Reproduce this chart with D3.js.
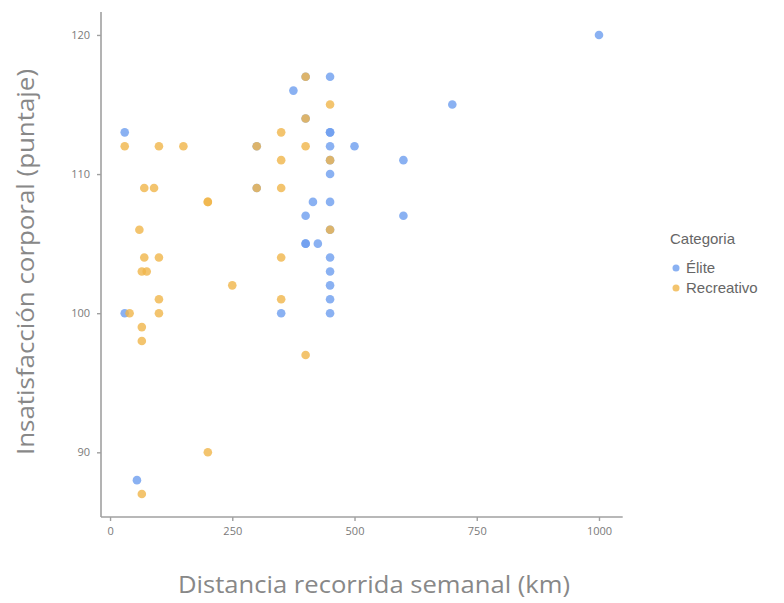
<!DOCTYPE html>
<html><head><meta charset="utf-8">
<script src="https://cdn.jsdelivr.net/npm/d3@7"></script>
<style>body{margin:0;background:#fff}</style>
</head><body>
<svg id="c" width="784" height="603"></svg>
<script>
const categories = ["Élite", "Recreativo"];
const eliteX = [1000,700,600,600,500,30,375,450,450,450,450,450,450,450,450,450,450,450,450,450,400,400,400,425,415,350,30,55,300,300,400,400];
const eliteY = [120,115,111,107,112,113,116,117,113,113,112,111,110,108,106,104,103,102,101,100,105,105,107,105,108,100,100,88,112,109,117,114];
const recX = [30,100,150,300,350,350,350,350,350,400,400,400,400,450,450,450,70,90,300,200,200,60,70,100,65,75,250,100,40,100,65,65,200,65];
const recY = [112,112,112,112,113,111,109,104,101,117,114,112,97,115,111,106,109,109,109,108,108,106,104,104,103,103,102,101,100,100,99,98,90,87];
const xTicks = [0,250,500,750,1000];
const yTicks = [90,100,110,120];
const colors = ["#6d9eef", "#f0b54a"];

const svg = d3.select("#c");
const x = d3.scaleLinear().domain([-18.5,1048.5]).range([101,622.7]);
const y = d3.scaleLinear().domain([85.35,121.65]).range([517,12]);
const axisCol = "#a0a0a0", txtCol = "#7a7a7a";

const pts = [];
eliteX.forEach((v,i)=>pts.push({x:v,y:eliteY[i],c:0}));
recX.forEach((v,i)=>pts.push({x:v,y:recY[i],c:1}));

svg.append("g").selectAll("circle").data(pts).join("circle")
  .attr("cx",d=>x(d.x)).attr("cy",d=>y(d.y)).attr("r",4.3)
  .attr("fill",d=>colors[d.c]).attr("fill-opacity",0.8);

const gx = svg.append("g").attr("transform","translate(0,517)")
  .call(d3.axisBottom(x).tickValues(xTicks).tickFormat(d3.format("d")).tickSize(4).tickPadding(6).tickSizeOuter(0));
const gy = svg.append("g").attr("transform","translate(101,0)")
  .call(d3.axisLeft(y).tickValues(yTicks).tickFormat(d3.format("d")).tickSize(4).tickPadding(7).tickSizeOuter(0));
[gx,gy].forEach(g=>{
  g.select(".domain").attr("stroke",axisCol).attr("stroke-width",1.6);
  g.selectAll(".tick line").attr("stroke",axisCol).attr("stroke-width",1.4);
  g.selectAll(".tick text").attr("fill",txtCol).attr("font-family","Liberation Sans Narrow, Open Sans, sans-serif").attr("font-size",11);
});
gx.select(".domain").attr("d","M101,0H622.7");
gy.select(".domain").attr("d","M0,12V517");

svg.append("text").attr("x",374).attr("y",593).attr("text-anchor","middle")
  .attr("font-family","Open Sans, sans-serif").attr("font-size",23).attr("fill","#888")
  .attr("textLength",392).attr("lengthAdjust","spacingAndGlyphs")
  .text("Distancia recorrida semanal (km)");
svg.append("text").attr("transform","translate(34,262) rotate(-90)").attr("text-anchor","middle")
  .attr("font-family","Open Sans, sans-serif").attr("font-size",23).attr("fill","#888")
  .attr("textLength",386).attr("lengthAdjust","spacingAndGlyphs")
  .text("Insatisfacción corporal (puntaje)");

const lg = svg.append("g");
lg.append("text").attr("x",670).attr("y",244).attr("font-family","Liberation Sans, Arial, sans-serif")
  .attr("font-size",15).attr("fill","#666").text("Categoria");
categories.forEach((c,i)=>{
  lg.append("circle").attr("cx",676).attr("cy",268+i*20).attr("r",3.5).attr("fill",colors[i]).attr("fill-opacity",0.8);
  lg.append("text").attr("x",686).attr("y",273+i*20).attr("font-family","Liberation Sans, Arial, sans-serif")
    .attr("font-size",15).attr("fill","#666").text(c);
});
</script>
</body></html>
